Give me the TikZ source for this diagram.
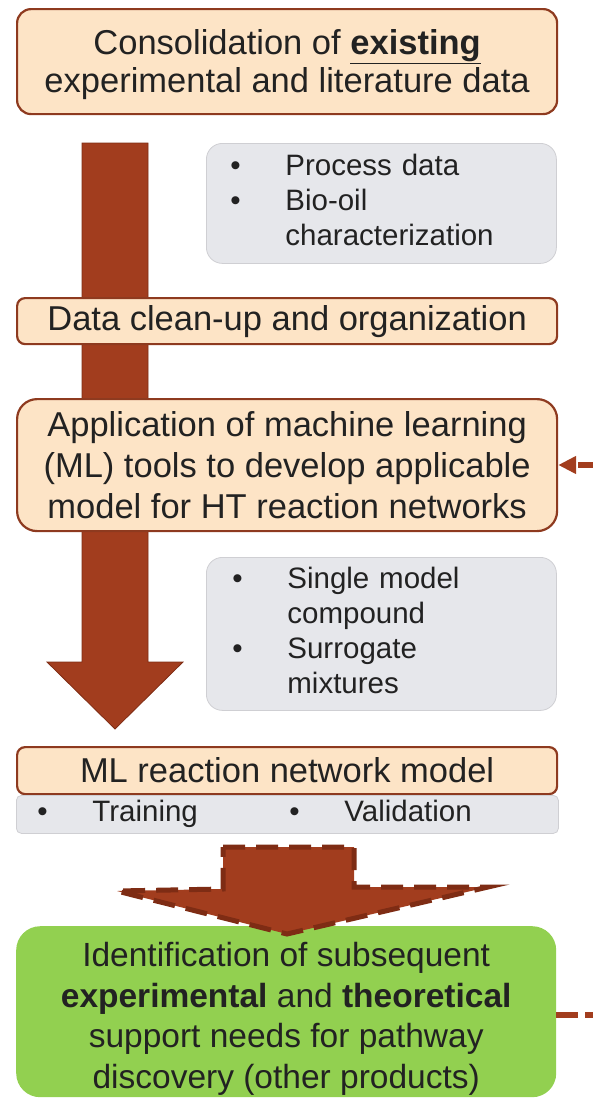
\documentclass[tikz,border=0pt]{standalone}
\usepackage{fontspec}
\setmainfont{Liberation Sans}
\usetikzlibrary{arrows.meta}
\definecolor{peach}{HTML}{FDE4C6}
\definecolor{rust}{HTML}{A23D1E}
\definecolor{rustdark}{HTML}{7E2C14}
\definecolor{boxedge}{HTML}{8E3A1F}
\definecolor{panel}{HTML}{E6E7EB}
\definecolor{paneledge}{HTML}{CFCFD3}
\definecolor{leaf}{HTML}{92D050}
\definecolor{ink}{HTML}{222222}
\begin{document}
\begin{tikzpicture}[x=1pt,y=-1pt,
  stepbox/.style={draw=boxedge, line width=2.2pt, fill=peach, rounded corners=14pt,
    inner sep=0pt, align=center, text=ink, anchor=north west,
    font=\fontsize{34.5}{41}\selectfont},
  listbox/.style={draw=paneledge, line width=0.8pt, fill=panel, rounded corners=16pt,
    inner sep=0pt, align=left, text=ink, anchor=north west,
    font=\fontsize{29.5}{35}\selectfont},
  goalbox/.style={fill=leaf, rounded corners=24pt, inner sep=0pt, align=center,
    text=ink, anchor=north west, font=\fontsize{33.5}{40.5}\selectfont},
  flowshaft/.style={fill=rust, draw=rustdark, line width=0.8pt},
  dashedflow/.style={fill=rust, draw=rustdark, line width=5pt, dash pattern=on 22pt off 11pt},
  loopline/.style={draw=rust, line width=5.5pt, dash pattern=on 22pt off 7pt},
]
\useasboundingbox (0,0) rectangle (593,1100);

% main downward flow arrow (behind the boxes)
\draw[flowshaft] (82,143) -- (148,143) -- (148,662) -- (183,662) -- (115,729)
  -- (47,662) -- (82,662) -- cycle;

% boxes
\node[stepbox, minimum width=540pt, minimum height=105pt] (consol) at (16,8)
  {\fontsize{34.5}{37.5}\selectfont
   \raisebox{0pt}[\dimexpr\height+6pt\relax][\depth]{\parbox{540pt}{\centering
   Consolidation of \underline{\textbf{existing}}\\experimental and literature data}}};

\node[listbox, minimum width=350pt, minimum height=120pt, text width=350pt] (data) at (206,143)
  {\begin{tabular}{@{\hspace{24pt}}p{55pt}@{}l@{}}
   \textbullet & Process data\\
   \textbullet & Bio-oil\\
               & characterization
   \end{tabular}};

\node[stepbox, rounded corners=8pt, minimum width=540pt, minimum height=46pt] (clean) at (16,297)
  {Data clean-up and organization};

\node[stepbox, rounded corners=20pt, minimum width=540pt, minimum height=132pt] (apply) at (16,398)
  {Application of machine learning\\(ML) tools to develop applicable\\model for HT reaction networks};

\node[listbox, minimum width=350pt, minimum height=153pt, text width=350pt] (compounds) at (206,557)
  {\begin{tabular}{@{\hspace{26pt}}p{55pt}@{}l@{}}
   \textbullet & Single model\\
               & compound\\
   \textbullet & Surrogate\\
               & mixtures
   \end{tabular}};

\node[stepbox, rounded corners=8pt, minimum width=540pt, minimum height=47pt] (mlmodel) at (16,746)
  {ML reaction network model};

\node[listbox, rounded corners=5pt, minimum width=542pt, minimum height=38pt, text width=542pt] (train) at (16,795)
  {\begin{tabular}{@{\hspace{21pt}}p{55pt}@{}p{197pt}@{}p{55pt}@{}l@{}}
   \textbullet & Training & \textbullet & Validation
   \end{tabular}};

\node[goalbox, minimum width=540pt, minimum height=171pt] (goal) at (16,926)
  {\raisebox{0pt}[\dimexpr\height+14pt\relax][\depth]{\parbox{540pt}{\centering
   Identification of subsequent\\
   \textbf{experimental} and \textbf{theoretical}\\
   support needs for pathway\\
   discovery (other products)}}};

% dashed arrow towards the goal
\draw[dashedflow] (223,847) -- (354,847) -- (354,887) -- (488,887) -- (287,934)
  -- (117,891) -- (223,889) -- cycle;

% feedback loop leaving the goal and returning to the ML step
\coordinate (loopout) at (640,1015);
\coordinate (loopin) at (600,465);
\draw[loopline] (goal.east |- 0,1015) -- (loopout);
\draw[loopline, -{Triangle[length=18pt,width=17pt]}] (loopin) -- (apply.east |- 0,465);
\end{tikzpicture}
\end{document}
